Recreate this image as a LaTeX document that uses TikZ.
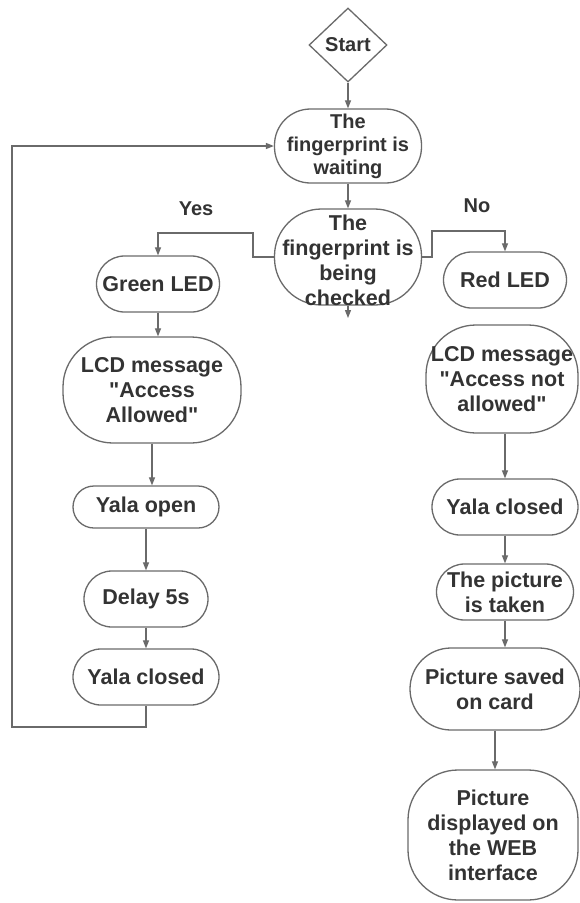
\documentclass[tikz,border=0pt]{standalone}
\usepackage{fontspec}
\setmainfont{Liberation Sans}[Ligatures=TeXOff]
\usetikzlibrary{arrows.meta,shapes.geometric}
\definecolor{lin}{HTML}{6A6A6A}
\definecolor{txtc}{HTML}{333333}
\begin{document}
\begin{tikzpicture}[x=1pt,y=-1pt,
  box/.style={draw=lin, line width=1.3pt, rounded corners=#1, inner sep=0pt},
  box/.default=28pt,
  lbl/.style={text=txtc, font=\bfseries\fontsize{21.5}{25}\selectfont, align=center, inner sep=0pt},
  small/.style={text=txtc, font=\bfseries\fontsize{20}{23}\selectfont, align=center, inner sep=0pt},
  arr/.style={draw=lin, line width=1.2pt, -{Triangle[width=6pt,length=8pt]}},
  ln/.style={draw=lin, line width=1.2pt}
]
\useasboundingbox (0,0) rectangle (579,903);
\fill[white] (0,0) rectangle (579,903);

% start
\node[diamond, draw=lin, line width=1.3pt, minimum width=78pt, minimum height=74pt, inner sep=0pt] (start) at (348,45) {};
\node[small] (startT) at (start.center) {Start};

% main column
\node[box=36pt, minimum width=147pt, minimum height=74pt] (wait) at (348,146) {};
\node[small] (waitT) at (wait.center) {The\\fingerprint is\\waiting};
\node[box=47pt, minimum width=147pt, minimum height=96pt] (check) at (348,257) {};
\node[lbl] (checkT) at (348,260) {The\\fingerprint is\\being\\checked};
\coordinate (checkTip) at (348,318);

% yes branch
\node[box, minimum width=123pt, minimum height=56pt] (green) at (158,284) {};
\node[lbl] (greenT) at (green.center) {Green LED};
\node[box=50pt, minimum width=178pt, minimum height=106pt] (lcdA) at (152,390) {};
\node[lbl] (lcdAT) at (lcdA.center) {LCD message\\"Access\\Allowed"};
\node[box=21pt, minimum width=146pt, minimum height=42pt] (yopen) at (146,507) {};
\node[lbl] (yopenT) at (yopen.center) {Yala open};
\node[box, minimum width=124pt, minimum height=56pt] (delay) at (146,599) {};
\node[lbl] (delayT) at (delay.center) {Delay 5s};
\node[box, minimum width=146pt, minimum height=56pt] (yclA) at (146,677) {};
\node[lbl] (yclAT) at (yclA.center) {Yala closed};

% no branch
\node[box, minimum width=123pt, minimum height=56pt] (red) at (505,280) {};
\node[lbl] (redT) at (red.center) {Red LED};
\node[box=50pt, minimum width=152pt, minimum height=108pt] (lcdN) at (502,379) {};
\node[lbl] (lcdNT) at (lcdN.center) {LCD message\\"Access not\\allowed"};
\node[box, minimum width=146pt, minimum height=56pt] (yclN) at (505,507) {};
\node[lbl] (yclNT) at (yclN.center) {Yala closed};
\node[box, minimum width=137pt, minimum height=56pt] (pic) at (505,592) {};
\node[lbl] (picT) at (pic.center) {The picture\\is taken};
\node[box=41pt, minimum width=170pt, minimum height=82pt] (saved) at (495,689) {};
\node[lbl] (savedT) at (saved.center) {Picture saved\\on card};
\node[box=50pt, minimum width=170pt, minimum height=130pt] (disp) at (493,835) {};
\node[lbl] (dispT) at (disp.center) {Picture\\displayed on\\the WEB\\interface};

% labels
\node[small] (yes) at (196,209) {Yes};
\node[small] (no) at (477,206) {No};

% connectors
\draw[arr] (start.south) -- (wait.north);
\draw[arr] (wait.south) -- (check.north);
\draw[arr] (check.south) -- (checkTip);
\coordinate (yesK) at (253,233);
\coordinate (noK) at (432,231);
\draw[arr] (check.west) -| (yesK) -| (green.north);
\draw[arr] (check.east) -| (noK) -| (red.north);
\draw[arr] (green.south) -- (lcdA.north -| green.south);
\draw[arr] (lcdA.south) -- (lcdA.south |- yopen.north);
\draw[arr] (yopen.south) -- (delay.north);
\draw[arr] (delay.south) -- (yclA.north);
\coordinate (loopA) at (12,727);
\draw[arr] (yclA.south) |- (loopA) |- (wait.west);
\draw[arr] (lcdN.south -| yclN.north) -- (yclN.north);
\draw[arr] (yclN.south) -- (pic.north);
\draw[arr] (pic.south) -- (pic.south |- saved.north);
\draw[arr] (saved.south) -- (saved.south |- disp.north);
\end{tikzpicture}
\end{document}
